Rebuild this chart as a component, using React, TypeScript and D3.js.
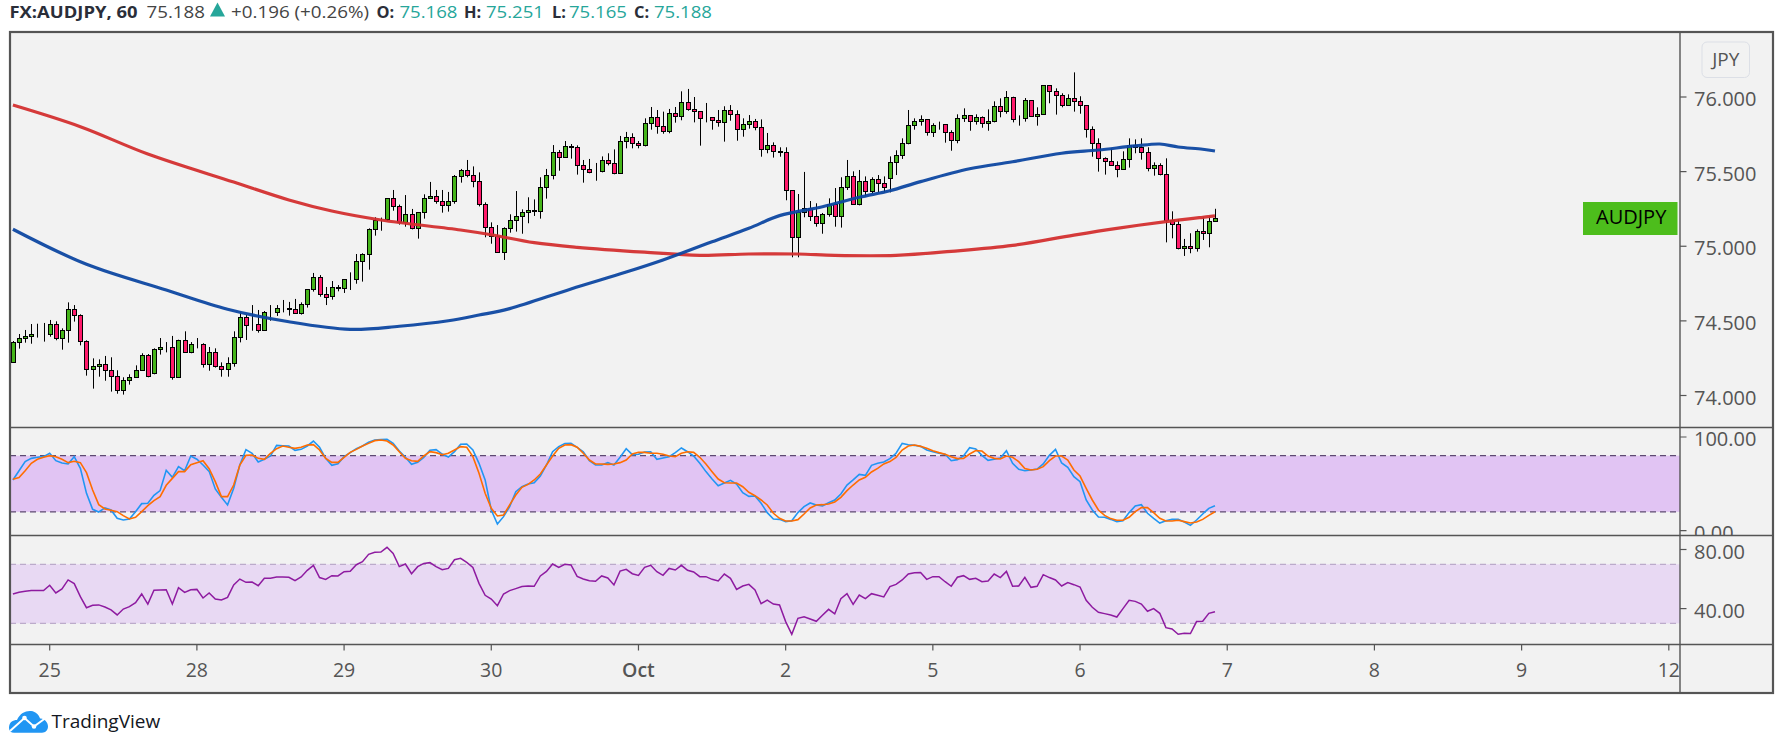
import React from 'react';
import * as d3 from 'd3';

const opens = [
  74.222,74.356,74.383,74.396,74.410,74.410,74.410,74.477,74.383,74.437,
  74.577,74.537,74.363,74.175,74.196,74.209,74.169,74.128,74.035,74.102,
  74.122,74.169,74.269,74.149,74.314,74.322,74.323,74.122,74.370,74.289,
  74.343,74.343,74.209,74.289,74.196,74.175,74.216,74.390,74.524,74.470,
  74.477,74.437,74.557,74.557,74.584,74.584,74.577,74.551,74.611,74.711,
  74.792,74.678,74.664,74.725,74.718,74.778,74.783,74.899,74.946,75.113,
  75.174,75.180,75.321,75.267,75.160,75.214,75.120,75.227,75.321,75.334,
  75.301,75.274,75.301,75.468,75.509,75.475,75.435,75.281,75.127,75.066,
  74.959,75.120,75.174,75.200,75.227,75.241,75.234,75.395,75.475,75.629,
  75.596,75.669,75.663,75.542,75.515,75.495,75.502,75.576,75.556,75.489,
  75.703,75.730,75.690,75.676,75.824,75.864,75.803,75.770,75.891,75.870,
  75.964,75.917,75.904,75.857,75.864,75.844,75.830,75.911,75.884,75.783,
  75.817,75.837,75.797,75.649,75.676,75.636,75.629,75.375,75.060,75.227,
  75.254,75.200,75.154,75.214,75.281,75.200,75.395,75.468,75.281,75.435,
  75.368,75.448,75.422,75.455,75.562,75.609,75.690,75.810,75.837,75.850,
  75.763,75.810,75.817,75.763,75.710,75.857,75.877,75.837,75.864,75.824,
  75.837,75.938,75.904,75.998,75.850,75.857,75.978,75.870,75.884,76.078,
  76.038,76.011,75.944,75.991,75.971,75.944,75.783,75.690,75.589,75.569,
  75.542,75.515,75.582,75.676,75.663,75.629,75.522,75.542,75.482,75.174,
  75.147,74.986,74.999,74.986,75.100,75.087,75.168,
];
const highs = [
  74.365,74.412,74.439,74.479,74.481,74.486,74.506,74.497,74.450,74.624,
  74.606,74.544,74.370,74.249,74.242,74.265,74.256,74.169,74.122,74.142,
  74.202,74.283,74.278,74.316,74.385,74.358,74.399,74.374,74.430,74.358,
  74.385,74.350,74.325,74.316,74.222,74.256,74.430,74.559,74.539,74.606,
  74.573,74.566,74.606,74.606,74.640,74.627,74.647,74.624,74.711,74.821,
  74.807,74.727,74.767,74.740,74.778,74.825,74.948,74.953,75.120,75.194,
  75.192,75.321,75.377,75.279,75.343,75.250,75.227,75.348,75.431,75.377,
  75.377,75.364,75.477,75.518,75.578,75.535,75.495,75.294,75.160,75.142,
  75.127,75.214,75.370,75.247,75.328,75.314,75.462,75.518,75.678,75.645,
  75.705,75.685,75.676,75.578,75.585,75.558,75.602,75.623,75.649,75.739,
  75.766,75.757,75.705,75.857,75.933,75.913,75.902,75.920,75.933,76.038,
  76.054,76.000,75.906,75.960,75.864,75.913,75.938,75.946,75.911,75.857,
  75.879,75.853,75.850,75.759,75.696,75.663,75.663,75.375,75.350,75.498,
  75.303,75.288,75.223,75.321,75.390,75.462,75.578,75.502,75.511,75.468,
  75.462,75.477,75.468,75.602,75.643,75.723,75.913,75.857,75.877,75.850,
  75.824,75.835,75.817,75.777,75.884,75.924,75.877,75.884,75.870,75.917,
  75.971,75.991,76.040,76.002,75.877,75.993,75.978,75.931,76.078,76.078,
  76.058,76.025,76.018,76.165,76.005,75.944,75.803,75.723,75.596,75.656,
  75.569,75.636,75.723,75.716,75.723,75.663,75.562,75.556,75.589,75.234,
  75.180,75.049,75.087,75.113,75.194,75.203,75.251,
];
const lows = [
  74.222,74.314,74.354,74.347,74.388,74.361,74.394,74.370,74.307,74.354,
  74.495,74.336,74.133,74.046,74.126,74.099,74.026,74.012,74.006,74.073,
  74.122,74.169,74.122,74.142,74.274,74.289,74.106,74.122,74.289,74.283,
  74.316,74.187,74.166,74.187,74.126,74.126,74.193,74.356,74.372,74.434,
  74.421,74.437,74.501,74.533,74.557,74.535,74.546,74.542,74.589,74.696,
  74.662,74.606,74.642,74.698,74.687,74.707,74.749,74.763,74.843,75.071,
  75.104,75.169,75.238,75.145,75.131,75.113,75.051,75.185,75.321,75.285,
  75.225,75.232,75.285,75.426,75.462,75.395,75.267,75.060,75.017,74.959,
  74.908,75.091,75.098,75.084,75.154,75.203,75.185,75.319,75.448,75.506,
  75.596,75.587,75.480,75.426,75.489,75.439,75.495,75.542,75.482,75.489,
  75.656,75.656,75.656,75.669,75.781,75.754,75.754,75.757,75.828,75.844,
  75.908,75.830,75.674,75.830,75.781,75.801,75.701,75.841,75.707,75.734,
  75.788,75.777,75.600,75.623,75.594,75.600,75.308,74.926,74.926,75.194,
  75.169,75.131,75.084,75.198,75.131,75.125,75.377,75.281,75.274,75.334,
  75.355,75.361,75.361,75.361,75.477,75.585,75.683,75.781,75.808,75.741,
  75.732,75.781,75.694,75.640,75.690,75.833,75.774,75.815,75.794,75.774,
  75.830,75.864,75.888,75.830,75.808,75.835,75.870,75.808,75.884,75.958,
  75.882,75.931,75.944,75.902,75.888,75.728,75.600,75.500,75.480,75.542,
  75.462,75.515,75.527,75.623,75.580,75.502,75.473,75.475,75.026,75.053,
  74.979,74.935,74.953,74.964,75.042,74.993,75.165,
];
const closes = [
  74.356,74.383,74.396,74.410,74.410,74.412,74.477,74.383,74.437,74.577,
  74.537,74.363,74.175,74.196,74.209,74.169,74.128,74.035,74.102,74.122,
  74.169,74.269,74.128,74.314,74.322,74.322,74.122,74.370,74.289,74.343,
  74.343,74.209,74.289,74.196,74.175,74.216,74.390,74.524,74.470,74.472,
  74.437,74.557,74.557,74.584,74.584,74.582,74.551,74.611,74.711,74.792,
  74.678,74.662,74.725,74.723,74.778,74.783,74.899,74.946,75.113,75.174,
  75.178,75.321,75.267,75.160,75.214,75.120,75.227,75.321,75.334,75.301,
  75.274,75.301,75.468,75.509,75.475,75.435,75.281,75.127,75.066,74.959,
  75.120,75.174,75.200,75.227,75.241,75.239,75.395,75.475,75.629,75.596,
  75.669,75.667,75.542,75.515,75.495,75.500,75.576,75.556,75.489,75.703,
  75.730,75.690,75.676,75.824,75.864,75.803,75.770,75.891,75.870,75.964,
  75.917,75.904,75.857,75.862,75.844,75.830,75.911,75.884,75.783,75.817,
  75.837,75.797,75.649,75.676,75.636,75.632,75.375,75.060,75.227,75.254,
  75.200,75.154,75.214,75.281,75.200,75.395,75.468,75.281,75.435,75.368,
  75.448,75.422,75.395,75.562,75.609,75.690,75.810,75.837,75.850,75.763,
  75.810,75.812,75.763,75.710,75.857,75.877,75.837,75.864,75.824,75.837,
  75.938,75.904,75.998,75.850,75.853,75.978,75.870,75.884,76.078,76.038,
  76.011,75.944,75.991,75.971,75.944,75.783,75.690,75.589,75.569,75.542,
  75.515,75.582,75.676,75.663,75.629,75.522,75.542,75.482,75.174,75.147,
  74.986,74.999,74.986,75.100,75.087,75.167,75.188,
];

// moving averages read at every few bars: [bar, price]
const ma100: [number, number][] = [
  [0,75.114],[12,74.879],[25,74.707],[35,74.578],[45,74.494],[55,74.443],[63,74.464],[71,74.501],
  [76,74.539],[81,74.582],[91,74.714],[100,74.827],[106,74.908],[109,74.953],[114,75.030],[120,75.120],
  [125,75.205],[132,75.265],[138,75.328],[143,75.372],[148,75.433],[156,75.519],[163,75.566],[171,75.623],
  [177,75.645],[183,75.672],[187,75.685],[190,75.665],[194,75.650],[196,75.638],
];
const ma200: [number, number][] = [
  [0,75.946],[11,75.801],[22,75.618],[36,75.430],[45,75.310],[52,75.236],[60,75.176],[73,75.109],
  [78,75.077],[85,75.024],[92,74.993],[103,74.960],[112,74.939],[120,74.948],[128,74.948],[134,74.939],
  [144,74.939],[153,74.966],[163,75.006],[173,75.075],[180,75.120],[188,75.165],[194,75.194],[196,75.203],
];

const stochK = [
  54.1,64.0,73.7,77.2,78.3,79.0,82.6,74.7,72.2,71.2,79.0,66.5,39.8,22.7,19.9,24.2,22.0,13.1,11.3,12.4,
  20.2,28.8,29.2,37.7,42.7,64.4,56.9,68.3,64.0,79.7,76.2,70.1,63.3,44.5,35.5,27.4,45.2,70.1,86.5,82.6,
  73.3,76.2,79.7,91.1,90.7,90.4,85.8,86.8,90.4,95.7,89.0,77.2,69.7,71.5,79.0,83.3,87.5,90.4,94.3,96.8,
  97.2,97.5,93.2,85.0,78.3,70.8,72.9,78.3,85.8,86.5,81.8,78.6,84.3,92.2,92.5,86.1,71.9,54.1,22.0,7.1,
  14.9,25.6,41.6,46.9,49.8,51.2,58.3,70.1,84.3,89.7,92.9,93.2,89.0,84.3,74.7,70.1,70.1,72.6,70.1,78.3,
  87.5,81.1,81.5,84.0,84.3,76.2,77.6,79.0,83.3,88.3,84.3,79.7,71.9,63.0,55.1,48.0,50.9,53.7,49.8,40.5,
  36.6,36.9,29.2,19.2,12.4,12.0,9.6,10.6,19.2,25.6,29.5,27.4,26.3,29.8,32.7,39.1,48.7,54.1,60.1,59.0,
  69.7,71.9,73.3,76.9,82.6,93.2,91.8,91.1,90.0,86.1,84.3,82.6,81.5,74.7,75.8,79.7,88.6,87.2,80.4,75.1,
  76.2,77.6,85.4,71.9,65.5,64.0,64.8,65.8,71.2,80.4,86.8,72.2,67.6,57.6,52.3,32.7,22.0,14.5,14.2,12.0,
  9.6,10.6,19.2,26.3,27.7,18.5,13.1,8.1,10.6,12.0,12.0,9.2,5.6,11.3,17.7,23.8,26.6,
];
const stochD = [
  54.8,56.6,64.0,71.9,76.2,78.3,80.1,79.0,76.2,72.6,74.0,72.6,61.9,43.4,27.7,23.1,21.7,20.2,16.0,12.4,
  14.2,20.2,26.6,32.0,36.3,48.4,55.8,63.0,63.0,70.4,72.6,74.7,66.2,52.3,36.3,36.3,48.7,70.1,80.4,80.8,
  77.2,76.2,82.6,87.5,90.4,89.0,87.9,89.0,91.5,91.8,86.1,77.2,72.9,72.9,78.3,83.6,86.8,90.4,93.2,96.1,
  96.8,95.7,91.5,84.3,77.2,74.7,74.0,79.7,84.3,83.3,81.1,82.6,86.1,89.7,89.0,79.0,61.2,39.8,23.8,15.6,
  16.7,27.4,38.0,46.2,49.4,54.1,60.5,70.1,79.7,87.9,91.5,91.8,89.0,82.6,75.4,71.2,71.2,70.8,71.2,72.6,
  75.4,81.8,83.6,83.6,82.6,82.6,81.5,79.7,79.0,82.6,84.3,83.6,78.3,71.2,63.0,55.1,51.2,50.9,50.9,46.9,
  40.9,37.3,32.7,27.4,18.5,13.1,10.3,10.3,11.7,17.7,24.2,27.4,27.7,28.4,30.6,35.5,42.7,48.7,54.1,56.9,
  62.6,66.5,71.2,73.7,78.3,86.1,90.4,91.5,90.0,87.9,85.4,83.3,81.5,79.0,76.9,77.2,81.8,85.4,85.0,79.7,
  77.2,76.5,79.7,78.3,73.7,66.2,64.8,65.5,68.3,74.7,79.7,79.7,75.4,64.8,58.3,45.2,32.7,22.0,16.3,12.8,
  11.0,11.0,14.2,20.2,24.5,24.5,19.2,13.1,10.3,10.3,11.0,9.6,8.1,9.2,12.0,16.3,20.2,
];
const rsi = [
  49.9,51.0,51.7,52.2,52.2,52.2,55.8,50.6,53.3,59.4,56.9,48.1,40.6,42.2,42.5,41.1,39.1,35.7,39.7,41.3,
  44.0,49.9,43.1,52.4,52.6,52.8,43.1,54.2,51.0,52.8,53.0,47.2,50.6,46.5,45.8,47.6,56.0,60.0,57.8,58.0,
  55.5,60.5,60.5,61.4,61.4,61.2,58.9,61.4,65.9,69.3,61.0,59.8,62.3,62.1,65.0,65.2,69.7,71.8,76.7,78.1,
  78.3,81.5,77.4,68.4,70.2,63.6,68.4,70.6,71.1,68.4,66.3,67.2,73.1,74.0,71.3,67.9,57.1,49.0,46.5,42.0,
  49.9,52.2,53.5,54.9,55.3,55.1,62.1,65.2,70.2,67.9,70.0,69.5,61.8,60.0,58.9,58.5,62.1,60.7,56.0,65.4,
  66.6,63.6,62.5,67.9,69.3,65.0,62.5,67.2,66.1,69.3,65.9,64.8,61.6,61.6,59.8,58.7,63.4,60.5,53.0,55.3,
  56.4,52.6,43.3,45.8,43.1,42.5,31.2,22.6,33.4,34.5,33.0,31.4,35.5,39.5,36.4,46.7,50.1,42.9,49.2,46.7,
  50.1,49.0,47.9,54.9,56.4,59.4,63.4,64.3,64.5,59.8,61.6,61.6,58.2,55.1,61.2,62.3,59.8,60.5,58.2,58.7,
  63.4,61.0,65.2,55.1,55.3,61.2,54.4,55.1,63.0,61.0,59.4,55.3,57.6,56.2,54.6,45.6,40.9,37.5,36.6,35.7,
  34.3,40.0,45.6,44.9,43.1,38.2,40.0,36.8,27.1,26.2,22.6,23.3,23.1,31.2,31.4,36.8,37.9,
];

const priceTicks = [74, 74.5, 75, 75.5, 76];
const stochTicks = [0, 100];
const rsiTicks = [40, 80];
const dayLabels = ['25', '28', '29', '30', 'Oct', '2', '5', '6', '7', '8', '9', '12'];
const barsPerDay = 24;
const firstDayBar = 6;

const width = 1783;
const height = 749;
const left = 10;
const right = 1680;
const outerRight = 1773;
const top = 32;
const priceBottom = 427.5;
const stochBottom = 535.5;
const rsiBottom = 644.5;
const bottom = 693;

const sans = '"Open Sans", "Noto Sans", sans-serif';
const axisColor = '#555555';

const x = d3.scaleLinear().domain([0, 196]).range([12.9, 12.9 + 196 * 6.133]);
const yPrice = d3.scaleLinear().domain([74, 76]).range([395.5, 97]);
const yStoch = d3.scaleLinear().domain([0, 100]).range([530.6, 437]);
const yRsi = d3.scaleLinear().domain([40, 80]).range([608.6, 549.5]);

const maLine = d3.line<[number, number]>()
  .x(d => x(d[0]))
  .y(d => yPrice(d[1]))
  .curve(d3.curveCatmullRom.alpha(0.5));
const stochLine = d3.line<number>().x((_, i) => x(i)).y(d => yStoch(d));
const rsiLine = d3.line<number>().x((_, i) => x(i)).y(d => yRsi(d));

const green = '#45b51a';
const red = '#ff1a6b';

// snap to the pixel grid so the 1px outlines stay sharp
const snap = (v: number) => Math.round(v) + 0.5;

const Candles = () => (
  <g>
    {opens.map((o, i) => {
      const c = closes[i];
      const cx = snap(x(i));
      const yTop = snap(yPrice(Math.max(o, c)));
      const yBot = snap(yPrice(Math.min(o, c)));
      return (
        <g key={i}>
          <line x1={cx} x2={cx} y1={yPrice(highs[i])} y2={yPrice(lows[i])} stroke="#000" strokeWidth={1} />
          <rect
            x={cx - 2}
            y={yTop}
            width={4}
            height={yBot - yTop}
            fill={c >= o ? green : red}
            stroke="#000"
            strokeWidth={1}
          />
        </g>
      );
    })}
  </g>
);

const AxisLabels = ({ ticks, y, fmt }: { ticks: number[]; y: d3.ScaleLinear<number, number>; fmt: string }) => (
  <g>
    {ticks.map(t => (
      <g key={t}>
        <line x1={right} x2={right + 6.5} y1={y(t)} y2={y(t)} stroke={axisColor} strokeWidth={1.2} />
        <text x={right + 14} y={y(t) + 9} fontFamily={sans} fontSize={20} fill={axisColor}>
          {d3.format(fmt)(t)}
        </text>
      </g>
    ))}
  </g>
);

export default function App() {
  return (
    <svg
      width={width}
      height={height}
      viewBox={`0 0 ${width} ${height}`}
      style={{ position: 'absolute', left: 0, top: 0, background: '#fff', display: 'block' }}
    >
      <defs>
        <clipPath id="pricePane"><rect x={left} y={top} width={right - left} height={priceBottom - top} /></clipPath>
        <clipPath id="stochAxis"><rect x={right} y={priceBottom} width={outerRight - right} height={stochBottom - priceBottom} /></clipPath>
      </defs>

      {/* header */}
      <g fontFamily={sans} fontSize={16.4}>
        <text x={9.5} y={17.5} fontWeight={700} fill="#2a2e39" textLength={128} lengthAdjust="spacingAndGlyphs">FX:AUDJPY, 60</text>
        <text x={146.5} y={17.5} fill="#444" textLength={58.5} lengthAdjust="spacingAndGlyphs">75.188</text>
        <path d="M210,16.5 L217.5,2.5 L225,16.5 Z" fill="#26a69a" />
        <text x={231} y={17.5} fill="#444" textLength={138} lengthAdjust="spacingAndGlyphs">+0.196 (+0.26%)</text>
        <text x={376.5} y={17.5} fontWeight={700} fill="#2a2e39">O:</text>
        <text x={399.5} y={17.5} fill="#26a69a" textLength={58} lengthAdjust="spacingAndGlyphs">75.168</text>
        <text x={464} y={17.5} fontWeight={700} fill="#2a2e39">H:</text>
        <text x={486} y={17.5} fill="#26a69a" textLength={58} lengthAdjust="spacingAndGlyphs">75.251</text>
        <text x={552} y={17.5} fontWeight={700} fill="#2a2e39">L:</text>
        <text x={569} y={17.5} fill="#26a69a" textLength={58} lengthAdjust="spacingAndGlyphs">75.165</text>
        <text x={634} y={17.5} fontWeight={700} fill="#2a2e39">C:</text>
        <text x={654} y={17.5} fill="#26a69a" textLength={58} lengthAdjust="spacingAndGlyphs">75.188</text>
      </g>

      <rect x={left} y={top} width={outerRight - left} height={bottom - top} fill="#f2f2f2" />

      {/* stochastic and rsi bands */}
      <rect x={left} y={yStoch(80)} width={right - left} height={yStoch(20) - yStoch(80)} fill="#e1c4f3" />
      <rect x={left} y={yRsi(70)} width={right - left} height={yRsi(30) - yRsi(70)} fill="#e8d9f3" />
      {[80, 20].map(v => (
        <line key={v} x1={left} x2={right} y1={yStoch(v)} y2={yStoch(v)} stroke="#5e4a72" strokeWidth={1.2} strokeDasharray="6 4" />
      ))}
      {[70, 30].map(v => (
        <line key={v} x1={left} x2={right} y1={yRsi(v)} y2={yRsi(v)} stroke="#bcabcb" strokeWidth={1.2} strokeDasharray="6 4" />
      ))}

      <g clipPath="url(#pricePane)">
        <Candles />
        <path d={maLine(ma200) ?? ''} fill="none" stroke="#d32f2f" strokeWidth={3.2} strokeOpacity={0.95} />
        <path d={maLine(ma100) ?? ''} fill="none" stroke="#0d47a1" strokeWidth={3.2} strokeOpacity={0.95} />
      </g>

      <path d={stochLine(stochK) ?? ''} fill="none" stroke="#2196f3" strokeWidth={1.6} />
      <path d={stochLine(stochD) ?? ''} fill="none" stroke="#ff6d00" strokeWidth={1.6} />
      <path d={rsiLine(rsi) ?? ''} fill="none" stroke="#8e1ba0" strokeWidth={1.5} />

      {/* price axis */}
      <AxisLabels ticks={priceTicks} y={yPrice} fmt=".3f" />
      <g clipPath="url(#stochAxis)"><AxisLabels ticks={stochTicks} y={yStoch} fmt=".2f" /></g>
      <AxisLabels ticks={rsiTicks} y={yRsi} fmt=".2f" />

      <rect x={1702} y={42} width={47.5} height={35.5} rx={5} fill="#f2f2f2" stroke="#dcdfe6" strokeWidth={1} />
      <text x={1725.8} y={66} textAnchor="middle" fontFamily={sans} fontSize={19} fill={axisColor}>JPY</text>

      <rect x={1583} y={202} width={94.5} height={33} fill="#4dbd1c" />
      <text x={1596} y={224} fontFamily={sans} fontSize={20} fill="#000">AUDJPY</text>

      {/* time axis */}
      {dayLabels.map((d, k) => {
        const tx = x(firstDayBar + k * barsPerDay);
        return (
          <g key={d}>
            <line x1={tx} x2={tx} y1={rsiBottom} y2={rsiBottom + 6} stroke={axisColor} strokeWidth={1.2} />
            <text x={tx} y={676.5} textAnchor="middle" fontFamily={sans} fontSize={19.5} fontWeight={d === 'Oct' ? 600 : 400} fill={axisColor}>{d}</text>
          </g>
        );
      })}

      {/* pane frames */}
      <g stroke={axisColor} strokeWidth={1.4}>
        <line x1={left} x2={outerRight} y1={priceBottom} y2={priceBottom} />
        <line x1={left} x2={outerRight} y1={stochBottom} y2={stochBottom} />
        <line x1={left} x2={outerRight} y1={rsiBottom} y2={rsiBottom} />
        <line x1={right} x2={right} y1={top} y2={bottom} />
      </g>
      <rect x={left} y={top} width={outerRight - left} height={bottom - top} fill="none" stroke={axisColor} strokeWidth={2.2} />

      {/* logo */}
      <g>
        <path
          d="M9,728 C9,722 13,720 17,720 C20,713 26,710.5 31,711 C36,711.5 39,715 40,718.5 C44,718 48,722 48,726.5 C48,730 45.5,732.7 42,732.7 L14,732.7 C11,732.7 9,731 9,728 Z"
          fill="#2196f3"
        />
        <path d="M10,731 L24.5,718 L34,726.5 L47,717" fill="none" stroke="#fff" strokeWidth={2} />
        <circle cx={24.5} cy={718} r={2.3} fill="#fff" />
        <circle cx={34} cy={726.5} r={2.3} fill="#fff" />
      </g>
      <text x={51.5} y={728.3} fontFamily={sans} fontSize={19} fill="#131722">TradingView</text>
    </svg>
  );
}
